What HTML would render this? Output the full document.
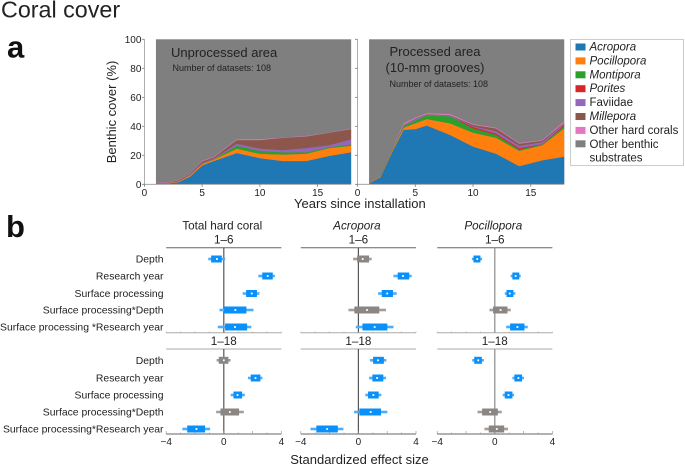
<!DOCTYPE html>
<html><head><meta charset="utf-8"><title>Coral cover</title>
<style>
html,body{margin:0;padding:0;background:#fff}
svg{display:block}
text{font-family:"Liberation Sans",sans-serif;fill:#222}
</style></head>
<body>
<svg id="chart" width="685" height="465" viewBox="0 0 685 465" xmlns="http://www.w3.org/2000/svg">
<text x="1" y="17.3" font-size="23.3">Coral cover</text>
<text x="7" y="57.3" font-size="31" font-weight="bold" style="fill:#111">a</text>
<text x="6" y="236.8" font-size="31" font-weight="bold" style="fill:#111">b</text>
<text transform="translate(116,112) rotate(-90)" text-anchor="middle" font-size="13">Benthic cover (%)</text>
<text x="294" y="208" font-size="13">Years since installation</text>
<text x="359.5" y="464" text-anchor="middle" font-size="13">Standardized effect size</text>
<g id="areas"></g>
<g id="forest"></g>
<g>
<text x="171" y="57" font-size="13">Unprocessed area</text>
<text x="172.5" y="71" font-size="9">Number of datasets: 108</text>
<text x="435" y="56" text-anchor="middle" font-size="13">Processed area</text>
<text x="435" y="72" text-anchor="middle" font-size="13">(10-mm grooves)</text>
<text x="389.5" y="87" font-size="9">Number of datasets: 108</text>
</g>
<g id="legend">
<rect x="570.5" y="39.5" width="113" height="126" fill="#fff" stroke="#ccc"/>
</g>
<script>
// Panel a data: years and per-genus layer thickness (percent cover)
var years = [1,2,3,4,5,6,8,10,12,14,16,17.9];
var layerNames = ['Acropora','Pocillopora','Montipora','Porites','Faviidae','Millepora','Other hard corals'];
var unprocessedAcropora = [0.3,0.5,1.5,5.5,13,16,21.5,18,16,16,19.5,22];
var unprocessedPocillopora = [0.2,0.2,0.5,1,1,1,3,3,4.5,5,5.5,4.5];
var unprocessedMontipora = [0.1,0.1,0.1,0.2,0.2,0.3,2,2,1.5,1,0.5,1];
var unprocessedPorites = [0,0,0,0,0,0,0,0,0,0,0,0];
var unprocessedFaviidae = [0.1,0.1,0.2,0.2,0.4,0.4,1.5,1.5,1.5,3,1.5,3.5];
var unprocessedMillepora = [0.3,0.2,0.6,0.6,1.2,0.8,2.5,6,8.5,8,8.5,7];
var unprocessedOther = [0.2,0.2,0.3,0.3,0.4,0.4,0.5,0.6,0.2,0.3,0.2,0.3];
var processedAcropora = [0.5,5,22,37.5,38,40.5,34,26,21,12.5,16.5,19];
var processedPocillopora = [0.2,0.5,1,1.5,4,4.5,8,9.5,11,10.5,10.5,19.5];
var processedMontipora = [0.1,0.2,0.5,1,2,2.5,5,3,2,1,0.5,1.5];
var processedPorites = [0,0,0,0,0,0,0,1,1,1,0.2,1];
var processedFaviidae = [0.1,0.1,0.2,0.5,1,0.5,0.5,0.5,1.5,1.5,1.3,1];
var processedMillepora = [0.1,0.1,0.2,0.5,0.3,0.3,0.2,1,2,1.5,1,0.5];
var processedOther = [0.1,0.1,0.2,1,0.7,0.7,0.8,0.5,0.5,0.5,0.5,1];
var xTickLabels = [0,5,10,15];
var yTickLabels = [0,20,40,60,80,100];
// Panel b data: effect rows, panels, intervals
var rowLabelsEarly = ['Depth','Research year','Surface processing','Surface processing*Depth','Surface processing *Research year'];
var rowLabelsFull = ['Depth','Research year','Surface processing','Surface processing*Depth','Surface processing*Research year'];
var forestTicks = [-4,0,4];
var coralMeanEarly = [-0.48,3.05,1.94,0.8,0.78];
var coralOuterLoEarly = [-1.08,2.4,1.31,-0.3,-0.42];
var coralOuterHiEarly = [0.1,3.55,2.48,2.06,1.91];
var coralInnerLoEarly = [-0.88,2.67,1.55,0.02,0.09];
var coralInnerHiEarly = [-0.14,3.4,2.3,1.57,1.62];
var coralSigEarly = [1,1,1,1,1];
var coralMeanFull = [0,2.2,0.95,0.42,-1.9];
var coralOuterLoFull = [-0.5,1.68,0.48,-0.53,-2.88];
var coralOuterHiFull = [0.47,2.68,1.46,1.39,-0.95];
var coralInnerLoFull = [-0.35,1.87,0.67,-0.23,-2.54];
var coralInnerHiFull = [0.32,2.54,1.27,1.06,-1.3];
var coralSigFull = [0,1,1,0,1];
var acroMeanEarly = [0.3,3.1,2,0.6,1.13];
var acroOuterLoEarly = [-0.37,2.43,1.37,-0.69,-0.18];
var acroOuterHiEarly = [0.92,3.7,2.66,1.92,2.44];
var acroInnerLoEarly = [-0.09,2.73,1.62,-0.28,0.28];
var acroInnerHiEarly = [0.74,3.53,2.4,1.45,2.01];
var acroSigEarly = [0,1,1,0,1];
var acroMeanFull = [1.36,1.3,1.04,0.85,-2.17];
var acroOuterLoFull = [0.8,0.74,0.48,-0.3,-3.33];
var acroOuterHiFull = [1.94,1.92,1.59,2.01,-1.04];
var acroInnerLoFull = [1.02,0.97,0.67,0.07,-2.92];
var acroInnerHiFull = [1.77,1.73,1.41,1.57,-1.43];
var acroSigFull = [1,1,1,1,1];
var pociMeanEarly = [-1.22,1.45,1.04,0.4,1.57];
var pociOuterLoEarly = [-1.59,1.1,0.69,-0.37,0.79];
var pociOuterHiEarly = [-0.88,1.8,1.43,1.11,2.29];
var pociInnerLoEarly = [-1.48,1.22,0.81,-0.12,1.06];
var pociInnerHiEarly = [-1,1.7,1.29,0.88,2.06];
var pociSigEarly = [1,1,1,0,1];
var pociMeanFull = [-1.15,1.64,0.95,-0.32,0.14];
var pociOuterLoFull = [-1.57,1.22,0.55,-1.2,-0.72];
var pociOuterHiFull = [-0.76,2.03,1.34,0.48,0.92];
var pociInnerLoFull = [-1.43,1.36,0.69,-0.88,-0.42];
var pociInnerHiFull = [-0.9,1.89,1.22,0.21,0.65];
var pociSigFull = [1,1,1,0,0];
var legendLabels = ['Acropora','Pocillopora','Montipora','Porites','Faviidae','Millepora','Other hard corals'];
var layerColors = ['#1f77b4','#ff7f0e','#2ca02c','#d62728','#9467bd','#8c564b','#e377c2'];
var NS = 'http://www.w3.org/2000/svg';
function mk(parent, tag, attrs, text){
  var el = document.createElementNS(NS, tag);
  for (var k in attrs) el.setAttribute(k, attrs[k]);
  if (text !== undefined) el.textContent = text;
  parent.appendChild(el);
  return el;
}
var areasG = document.getElementById('areas');
var yAxis = function(v){ return 184.3 - v * 1.45; };
function drawArea(x0, layers, panelName, showYLabels){
  var xAxis = function(v){ return x0 + v * 11.55; };
  var x1 = xAxis(years[0]), x18 = xAxis(years[years.length-1]);
  var bg = mk(areasG, 'rect', {x:x1, y:yAxis(100), width:x18-x1, height:yAxis(0)-yAxis(100), fill:'#7f7f7f'});
  
  
  var base = years.map(function(){ return 0; });
  layers.forEach(function(vals, i){
    var top = base.map(function(b, j){ return b + vals[j]; });
    var pts = [];
    years.forEach(function(y, j){ pts.push(xAxis(y).toFixed(1) + ',' + yAxis(top[j]).toFixed(1)); });
    for (var j = years.length - 1; j >= 0; j--) pts.push(xAxis(years[j]).toFixed(1) + ',' + yAxis(base[j]).toFixed(1));
    var p = mk(areasG, 'polygon', {points:pts.join(' '), fill:layerColors[i]});
    
    
    base = top;
  });
  var ax = mk(areasG, 'path', {d:'M'+x0+' '+yAxis(100)+'V'+yAxis(0)+'H'+x18, fill:'none', stroke:'#999', 'stroke-width':0.8});
  
  
  xTickLabels.forEach(function(v){
    var t = mk(areasG, 'text', {x:xAxis(v), y:196, 'text-anchor':'middle', 'font-size':10}, v);
    
    
    mk(areasG, 'path', {d:'M'+xAxis(v)+' '+yAxis(0)+'v2.5', stroke:'#777', 'stroke-width':0.8});
  });
  yTickLabels.forEach(function(v){
    mk(areasG, 'path', {d:'M'+(x0-2.5)+' '+yAxis(v)+'h2.5', stroke:'#777', 'stroke-width':0.8});
    if (showYLabels){
      var t = mk(areasG, 'text', {x:x0-3, y:yAxis(v)+3.5, 'text-anchor':'end', 'font-size':10}, v);
      
      
    }
  });
}
drawArea(144.4, [unprocessedAcropora,unprocessedPocillopora,unprocessedMontipora,unprocessedPorites,unprocessedFaviidae,unprocessedMillepora,unprocessedOther], 'unprocessed', true);
drawArea(357.5, [processedAcropora,processedPocillopora,processedMontipora,processedPorites,processedFaviidae,processedMillepora,processedOther], 'processed', false);

var legendG = document.getElementById('legend');
legendLabels.forEach(function(lab, i){
  var y = 46.5 + i * 13.9;
  var s = mk(legendG, 'rect', {x:575.5, y:y-3, width:10, height:7, fill:layerColors[i]});
  
  
  var t = mk(legendG, 'text', {x:589.5, y:y+4, 'font-size':11.5}, lab);
  if (i < 4 || i === 5) t.setAttribute('font-style', 'italic');
  
  
});
var swOther = mk(legendG, 'rect', {x:575.5, y:140.3, width:10, height:7, fill:'#7f7f7f'});


['Other benthic','substrates'].forEach(function(s, i){
  var t = mk(legendG, 'text', {x:589.5, y:147.8 + i*13.9, 'font-size':11.5}, s);
  
  
});

var forestG = document.getElementById('forest');
var rowYEarly = [259,276,293.5,310,327];
var rowYFull = [360.3,378,395,412,429];
function drawForestBlock(zero, s, topY, botY, rowsY, series, color, name, showTicks, labels){
  var fx = function(v){ return zero + v * 14.4; };
  var l = fx(-4), r = fx(4);
  var top = mk(forestG, 'line', {x1:l, x2:r, y1:topY, y2:topY, stroke:showTicks ? '#aaa' : '#666', 'stroke-width':1});
  
  
  var bot = mk(forestG, 'line', {x1:l, x2:r, y1:botY, y2:botY, stroke:showTicks ? '#666' : '#aaa', 'stroke-width':1});
  
  
  var zl = mk(forestG, 'line', {x1:fx(0), x2:fx(0), y1:topY, y2:botY, stroke:color, 'stroke-width':1.2});
  
  
  for (var m = -4; m <= 4; m += 1){
    mk(forestG, 'line', {x1:fx(m), x2:fx(m), y1:botY-(showTicks?(m%2===0?3:1.5):1), y2:botY, stroke:'#999', 'stroke-width':0.7});
  }
  if (showTicks){
    forestTicks.forEach(function(v){
      var t = mk(forestG, 'text', {x:fx(v), y:botY+11, 'text-anchor':'middle', 'font-size':10}, v < 0 ? '\u2212' + (-v) : v);
      
      
    });
  }
  series.mean.forEach(function(m, i){
    var col = series.sig[i] ? '#0a90fa' : '#8c8682';
    var lt = series.sig[i] ? '#4eaefa' : '#a39e9b';
    var y = rowsY[i];
    var o = mk(forestG, 'rect', {x:fx(series.outerLo[i]), y:y-1.3, width:(series.outerHi[i]-series.outerLo[i])*14.4, height:2.6, fill:lt});
    
    
    var n = mk(forestG, 'rect', {x:fx(series.innerLo[i]), y:y-3.5, width:(series.innerHi[i]-series.innerLo[i])*14.4, height:7, fill:col});
    
    
    var d = mk(forestG, 'rect', {x:fx(m)-0.9, y:y-0.9, width:1.8, height:1.8, fill:'#fff'});
    
    
    if (labels){
      var t = mk(forestG, 'text', {x:163.5, y:y+3.5, 'text-anchor':'end', 'font-size':10.4}, labels[i]);
      
      
    }
  });
  var h = mk(forestG, 'text', {x:fx(0)+ (s||0), y:topY-4, 'text-anchor':'middle', 'font-size':11.7}, showTicks ? '1\u201318' : '1\u20136');
  
  
}
function drawPanel(zero, early, full, sigEarly, sigFull, color, name, title, italic, hasLabels){
  var e = {mean:early[0], outerLo:early[1], outerHi:early[2], innerLo:early[3], innerHi:early[4], sig:sigEarly};
  var f = {mean:full[0], outerLo:full[1], outerHi:full[2], innerLo:full[3], innerHi:full[4], sig:sigFull};
  drawForestBlock(zero, 0, 247.7, 332.7, rowYEarly, e, color, name + '-early', false, hasLabels ? rowLabelsEarly : null);
  drawForestBlock(zero, 0, 349, 434, rowYFull, f, color, name + '-full', true, hasLabels ? rowLabelsFull : null);
  var t = mk(forestG, 'text', {x:zero-1.5, y:229.5, 'text-anchor':'middle', 'font-size':11.7}, title);
  if (italic) t.setAttribute('font-style', 'italic');
  
  
}
drawPanel(223.8,
  [coralMeanEarly,coralOuterLoEarly,coralOuterHiEarly,coralInnerLoEarly,coralInnerHiEarly],
  [coralMeanFull,coralOuterLoFull,coralOuterHiFull,coralInnerLoFull,coralInnerHiFull],
  coralSigEarly, coralSigFull, '#555', 'total-hard-coral', 'Total hard coral', false, true);
drawPanel(358.4,
  [acroMeanEarly,acroOuterLoEarly,acroOuterHiEarly,acroInnerLoEarly,acroInnerHiEarly],
  [acroMeanFull,acroOuterLoFull,acroOuterHiFull,acroInnerLoFull,acroInnerHiFull],
  acroSigEarly, acroSigFull, '#555', 'acropora', 'Acropora', true, false);
drawPanel(494.8,
  [pociMeanEarly,pociOuterLoEarly,pociOuterHiEarly,pociInnerLoEarly,pociInnerHiEarly],
  [pociMeanFull,pociOuterLoFull,pociOuterHiFull,pociInnerLoFull,pociInnerHiFull],
  pociSigEarly, pociSigFull, '#8a8a8a', 'pocillopora', 'Pocillopora', true, false);
</script>
</svg>
</body></html>
